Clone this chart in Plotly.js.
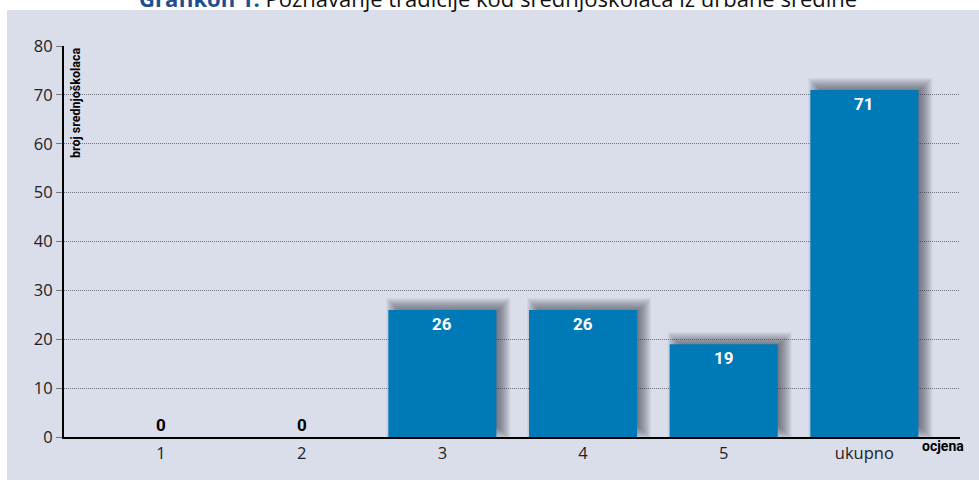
<!DOCTYPE html>
<html><head><meta charset="utf-8">
<script src="https://cdn.plot.ly/plotly-3.0.1.min.js"></script>
<style>html,body{margin:0;padding:0;background:#fff;}#chart{width:979px;height:480px;}</style>
</head><body><div id="chart"></div>
<script>
var categories = ["1", "2", "3", "4", "5", "ukupno"];
var values = [0, 0, 26, 26, 19, 71];
var yTicks = [0, 10, 20, 30, 40, 50, 60, 70, 80];
var titleBold = "Grafikon 1:";
var titleRest = " Poznavanje tradicije kod srednjoškolaca iz urbane sredine";
var yTitle = "broj srednjoškolaca";
var xTitle = "ocjena";

var W = 979, H = 480, mL = 64, mR = 19, mT = 46, mB = 43;
var pw = W - mL - mR, ph = H - mT - mB;
var xr = [-0.69, 5.68], yr = [0, 80];
var pxX = (xr[1] - xr[0]) / pw, pxY = (yr[1] - yr[0]) / ph;
var idx = categories.map(function (c, i) { return i; });
var bw = 0.768;
var condFont = { family: 'Liberation Sans Narrow, Roboto, sans-serif', weight: 'bold' };

var traces = [];
// soft drop shadow: nested layers around a rectangle shifted up-right
var spreads = [-6, -5, -4, -3, -2, -1, 0, 1, 2, 3, 4, 5, 6, 7, 8];
var dxPx = 6, dyPx = 4;
spreads.forEach(function (s) {
  var bases = values.map(function (v) { return v > 0 ? (6 - s) * pxY : 0; });
  var tops = values.map(function (v) { return v > 0 ? v + (dyPx + s) * pxY : 0; });
  traces.push({
    type: 'bar', x: idx,
    y: tops.map(function (t, i) { return t - bases[i]; }),
    base: bases,
    width: bw + 2 * s * pxX,
    offset: -bw / 2 + dxPx * pxX - s * pxX,
    marker: { color: 'rgba(45,45,60,0.06)', line: { width: 0 } },
    hoverinfo: 'skip', showlegend: false
  });
});
traces.push({
  type: 'bar', x: idx, y: values, width: bw, offset: -bw / 2,
  marker: { color: '#007ab6', line: { width: 0 } },
  hoverinfo: 'skip', showlegend: false
});

var annotations = values.map(function (v, i) {
  return v > 0 ? {
    x: i, y: v, xref: 'x', yref: 'y', yanchor: 'top', yshift: -2, showarrow: false,
    text: String(v), font: Object.assign({ size: 17, color: '#ffffff' }, condFont)
  } : {
    x: i, y: v, xref: 'x', yref: 'y', yanchor: 'bottom', yshift: 0, showarrow: false,
    text: String(v), font: Object.assign({ size: 17, color: '#000000' }, condFont)
  };
});
annotations.push({
  xref: 'paper', yref: 'paper', x: (75 - mL) / pw, y: 1, xanchor: 'center', yanchor: 'top',
  textangle: -90, showarrow: false, text: yTitle,
  font: Object.assign({ size: 12.5, color: '#000' }, condFont)
});
annotations.push({
  xref: 'paper', yref: 'paper', x: (943 - mL) / pw, y: (mT + ph - 446) / ph, xanchor: 'center', yanchor: 'middle',
  showarrow: false, text: xTitle,
  font: Object.assign({ size: 14, color: '#000' }, condFont)
});
annotations.push({
  xref: 'paper', yref: 'paper', x: (498 - mL) / pw, y: (mT + ph + 2) / ph, xanchor: 'center', yanchor: 'middle',
  showarrow: false,
  text: '<b><span style="color:#1d4f91">' + titleBold + '</span></b>' + titleRest,
  font: { family: 'Open Sans, Noto Sans, sans-serif', size: 22, color: '#111' }
});

var layout = {
  width: W, height: H,
  margin: { l: mL, r: mR, t: mT, b: mB, pad: 0 },
  paper_bgcolor: '#ffffff', plot_bgcolor: 'rgba(0,0,0,0)',
  barmode: 'overlay', showlegend: false,
  shapes: [{
    type: 'rect', xref: 'paper', yref: 'paper', layer: 'below',
    x0: (7 - mL) / pw, x1: (W - mL + 5) / pw, y0: (mT + ph - H - 5) / ph, y1: (mT + ph - 10) / ph,
    fillcolor: '#dadeea', line: { width: 0 }
  }],
  xaxis: {
    range: xr, tickmode: 'array', tickvals: idx, ticktext: categories,
    showgrid: false, zeroline: false, ticks: '', showline: true, linecolor: '#000', linewidth: 2,
    tickfont: { family: 'Open Sans, Noto Sans, sans-serif', size: 16.5, color: '#222' }, fixedrange: true
  },
  yaxis: {
    range: yr, tickmode: 'array', tickvals: yTicks, showgrid: true, gridcolor: '#74747f', griddash: '1px,1px', gridwidth: 1,
    zeroline: false, showline: true, linecolor: '#000', linewidth: 2,
    ticks: 'outside', ticklen: 6, tickcolor: '#777', tickwidth: 1,
    tickfont: { family: 'Open Sans, Noto Sans, sans-serif', size: 16.5, color: '#222' }, fixedrange: true
  },
  annotations: annotations
};
Plotly.newPlot('chart', traces, layout, { displayModeBar: false, staticPlot: true });
</script></body></html>
